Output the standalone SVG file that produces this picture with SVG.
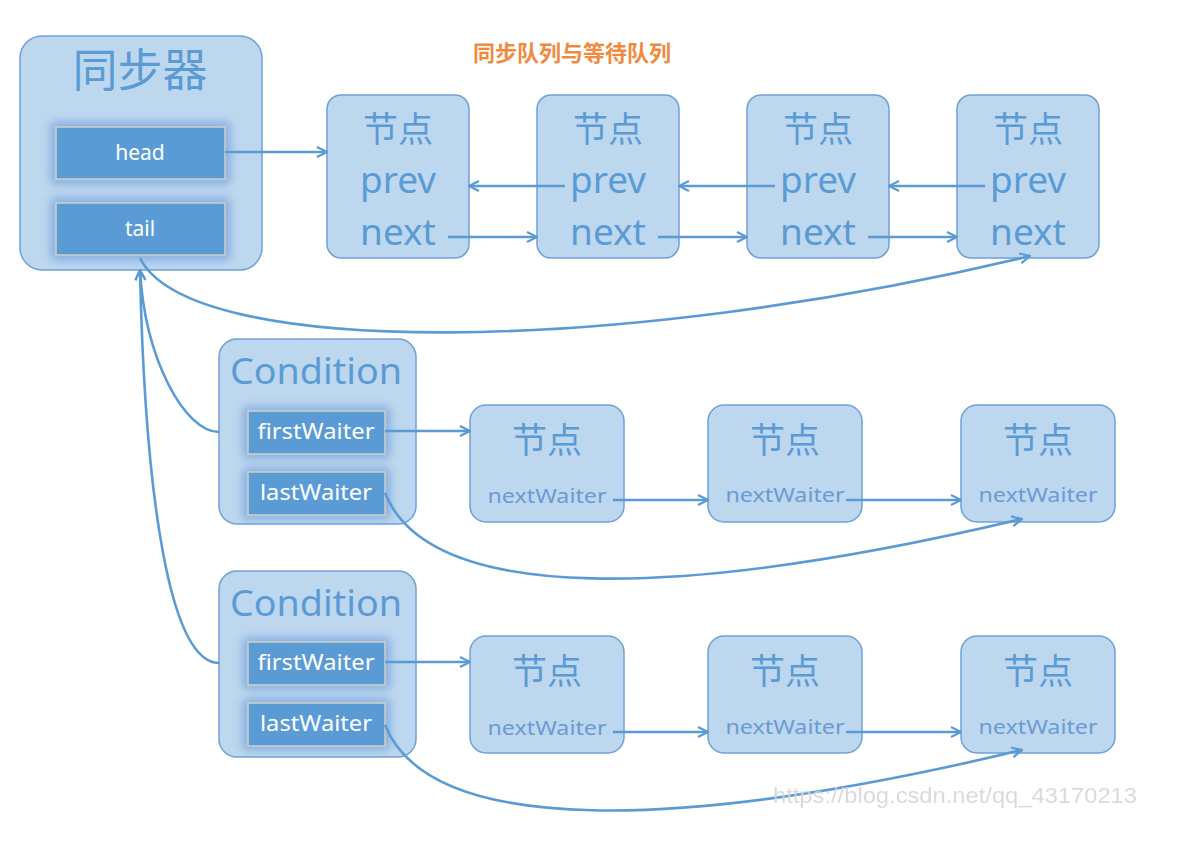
<svg xmlns="http://www.w3.org/2000/svg" width="1194" height="850" viewBox="0 0 1194 850">
<defs>
<style>
.box{fill:#bdd7ee;stroke:#6fa0d8;stroke-width:1.5}
.inner{fill:#5b9bd5;stroke:#cfcfc6;stroke-width:1.5}
.glow{fill:#7ea9de;opacity:0.8}
.cn{font-family:"Noto Sans CJK SC","Noto Sans",sans-serif;fill:#5b9bd5;text-anchor:middle}
.lat{font-family:"Noto Sans","Open Sans",sans-serif;fill:#5b9bd5;text-anchor:middle}
.wt{font-family:"Noto Sans","Open Sans",sans-serif;fill:#ffffff;text-anchor:middle;font-size:21px}
.nw{font-family:"Noto Sans","Open Sans",sans-serif;fill:#6a9bd3;text-anchor:middle;font-size:20px}
.ln{fill:none;stroke:#5b9bd5;stroke-width:2.6}
</style>
<filter id="blur" x="-20%" y="-40%" width="140%" height="180%"><feGaussianBlur stdDeviation="4"/></filter>
<marker id="ah" viewBox="0 0 12 12" refX="11" refY="6" markerWidth="12" markerHeight="12" markerUnits="userSpaceOnUse" orient="auto">
<path d="M1,1 L11,6 L1,11" fill="none" stroke="#5b9bd5" stroke-width="2.2"/>
</marker>
</defs>
<rect width="1194" height="850" fill="#ffffff"/>

<text x="572" y="61" font-family="Noto Sans CJK SC,sans-serif" font-size="22" font-weight="bold" fill="#ef8a3e" text-anchor="middle">同步队列与等待队列</text>

<g id="sync">
<rect class="box" x="20" y="36" width="242" height="234" rx="22"/>
<text class="cn" x="140" y="87" font-size="45">同步器</text>
<rect class="glow" x="50" y="121" width="181" height="64" rx="6" filter="url(#blur)"/>
<rect class="inner" x="56" y="127" width="169" height="52"/>
<text class="wt" x="140" y="160">head</text>
<rect class="glow" x="50" y="197" width="181" height="64" rx="6" filter="url(#blur)"/>
<rect class="inner" x="56" y="203" width="169" height="52"/>
<text class="wt" x="140" y="236">tail</text>
</g>

<g id="node1">
<rect class="box" x="327" y="95" width="142" height="163" rx="14"/>
<text class="cn" x="398" y="142" font-size="35">节点</text>
<text class="lat" x="398" y="193" font-size="37">prev</text>
<text class="lat" x="398" y="245" font-size="37">next</text>
</g>
<g id="node2">
<rect class="box" x="537" y="95" width="142" height="163" rx="14"/>
<text class="cn" x="608" y="142" font-size="35">节点</text>
<text class="lat" x="608" y="193" font-size="37">prev</text>
<text class="lat" x="608" y="245" font-size="37">next</text>
</g>
<g id="node3">
<rect class="box" x="747" y="95" width="142" height="163" rx="14"/>
<text class="cn" x="818" y="142" font-size="35">节点</text>
<text class="lat" x="818" y="193" font-size="37">prev</text>
<text class="lat" x="818" y="245" font-size="37">next</text>
</g>
<g id="node4">
<rect class="box" x="957" y="95" width="142" height="163" rx="14"/>
<text class="cn" x="1028" y="142" font-size="35">节点</text>
<text class="lat" x="1028" y="193" font-size="37">prev</text>
<text class="lat" x="1028" y="245" font-size="37">next</text>
</g>

<g id="cond1">
<rect class="box" x="219" y="339" width="197" height="185" rx="18"/>
<text class="lat" x="316" y="384" font-size="37" textLength="172" lengthAdjust="spacingAndGlyphs">Condition</text>
<rect class="glow" x="242" y="406" width="149" height="53" rx="6" filter="url(#blur)"/>
<rect class="inner" x="248" y="411" width="137" height="43"/>
<text class="wt" x="316" y="439" textLength="117" lengthAdjust="spacingAndGlyphs">firstWaiter</text>
<rect class="glow" x="242" y="467" width="149" height="53" rx="6" filter="url(#blur)"/>
<rect class="inner" x="248" y="472" width="137" height="43"/>
<text class="wt" x="316" y="500" textLength="112" lengthAdjust="spacingAndGlyphs">lastWaiter</text>
</g>
<g id="w1a">
<rect class="box" x="470" y="405" width="154" height="117" rx="16"/>
<text class="cn" x="547" y="453" font-size="35">节点</text>
<text class="nw" x="547" y="503" textLength="119" lengthAdjust="spacingAndGlyphs">nextWaiter</text>
</g>
<g id="w1b">
<rect class="box" x="708" y="405" width="154" height="117" rx="16"/>
<text class="cn" x="785" y="453" font-size="35">节点</text>
<text class="nw" x="785" y="502" textLength="119" lengthAdjust="spacingAndGlyphs">nextWaiter</text>
</g>
<g id="w1c">
<rect class="box" x="961" y="405" width="154" height="117" rx="16"/>
<text class="cn" x="1038" y="453" font-size="35">节点</text>
<text class="nw" x="1038" y="502" textLength="119" lengthAdjust="spacingAndGlyphs">nextWaiter</text>
</g>

<g id="cond2">
<rect class="box" x="219" y="571" width="197" height="186" rx="18"/>
<text class="lat" x="316" y="616" font-size="37" textLength="172" lengthAdjust="spacingAndGlyphs">Condition</text>
<rect class="glow" x="242" y="637" width="149" height="53" rx="6" filter="url(#blur)"/>
<rect class="inner" x="248" y="642" width="137" height="43"/>
<text class="wt" x="316" y="670" textLength="117" lengthAdjust="spacingAndGlyphs">firstWaiter</text>
<rect class="glow" x="242" y="698" width="149" height="53" rx="6" filter="url(#blur)"/>
<rect class="inner" x="248" y="703" width="137" height="43"/>
<text class="wt" x="316" y="731" textLength="112" lengthAdjust="spacingAndGlyphs">lastWaiter</text>
</g>
<g id="w2a">
<rect class="box" x="470" y="636" width="154" height="117" rx="16"/>
<text class="cn" x="547" y="684" font-size="35">节点</text>
<text class="nw" x="547" y="735" textLength="119" lengthAdjust="spacingAndGlyphs">nextWaiter</text>
</g>
<g id="w2b">
<rect class="box" x="708" y="636" width="154" height="117" rx="16"/>
<text class="cn" x="785" y="684" font-size="35">节点</text>
<text class="nw" x="785" y="734" textLength="119" lengthAdjust="spacingAndGlyphs">nextWaiter</text>
</g>
<g id="w2c">
<rect class="box" x="961" y="636" width="154" height="117" rx="16"/>
<text class="cn" x="1038" y="684" font-size="35">节点</text>
<text class="nw" x="1038" y="734" textLength="119" lengthAdjust="spacingAndGlyphs">nextWaiter</text>
</g>

<g id="connectors">
<path class="ln" d="M225,152 L327,152" marker-end="url(#ah)"/>
<path class="ln" d="M565,186 L469,186" marker-end="url(#ah)"/>
<path class="ln" d="M775,186 L679,186" marker-end="url(#ah)"/>
<path class="ln" d="M985,186 L889,186" marker-end="url(#ah)"/>
<path class="ln" d="M448,237 L537,237" marker-end="url(#ah)"/>
<path class="ln" d="M658,237 L747,237" marker-end="url(#ah)"/>
<path class="ln" d="M868,237 L957,237" marker-end="url(#ah)"/>
<path class="ln" d="M140,258 C190,360 620,355 1030,256" marker-end="url(#ah)"/>
<path class="ln" d="M219,432 C185,432 145,360 140,270" marker-end="url(#ah)"/>
<path class="ln" d="M219,663 C170,663 145,500 140,270" marker-end="url(#ah)"/>
<path class="ln" d="M385,431 L470,431" marker-end="url(#ah)"/>
<path class="ln" d="M613,500 L708,500" marker-end="url(#ah)"/>
<path class="ln" d="M846,500 L961,500" marker-end="url(#ah)"/>
<path class="ln" d="M385,493 C430,605 680,600 1022,519" marker-end="url(#ah)"/>
<path class="ln" d="M385,662 L470,662" marker-end="url(#ah)"/>
<path class="ln" d="M613,732 L708,732" marker-end="url(#ah)"/>
<path class="ln" d="M846,732 L961,732" marker-end="url(#ah)"/>
<path class="ln" d="M385,725 C430,837 680,832 1022,750" marker-end="url(#ah)"/>
</g>

<text x="955" y="803" font-family="Liberation Sans,Arial,sans-serif" font-size="22" fill="#d4d4d4" opacity="0.85" text-anchor="middle" textLength="364" lengthAdjust="spacingAndGlyphs">https://blog.csdn.net/qq_43170213</text>
</svg>
